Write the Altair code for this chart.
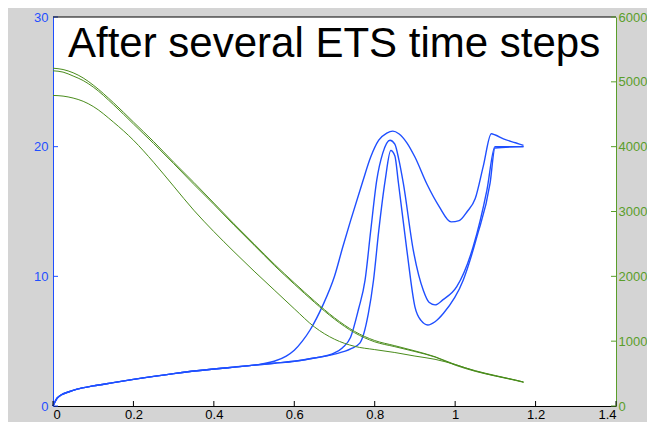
import altair as alt
import pandas as pd

BLUE = "#1f4fff"
GREEN = "#4a8c1c"
GREEN_AXIS = "#5a9e2a"
GREY = "#d4d4d4"
TITLE = "After several ETS time steps"

x_ticks = [0, 0.2, 0.4, 0.6, 0.8, 1.0, 1.2, 1.4]
left_ticks = [0, 10, 20, 30]
right_ticks = [0, 1000, 2000, 3000, 4000, 5000, 6000]

# Blue curves (left axis)
a_x = [0, 0.01, 0.02, 0.04, 0.06, 0.1, 0.15, 0.2, 0.3, 0.4, 0.45, 0.5, 0.52, 0.55, 0.58, 0.6,
       0.62, 0.64, 0.67, 0.7, 0.72, 0.74, 0.77, 0.79, 0.81, 0.83, 0.845, 0.86, 0.88, 0.9, 0.93,
       0.96, 0.99, 1.01, 1.03, 1.05, 1.07, 1.09, 1.1, 1.12, 1.15, 1.17]
a_v = [0, 0.6, 0.85, 1.1, 1.3, 1.55, 1.8, 2.05, 2.5, 2.85, 3.0, 3.15, 3.25, 3.45, 3.85, 4.3,
       5.0, 5.9, 7.7, 10.0, 12.2, 14.3, 17.3, 19.2, 20.5, 21.05, 21.2, 21.0, 20.3, 19.2, 17.1,
       15.4, 14.2, 14.3, 15.0, 16.0, 18.5, 21.0, 20.9, 20.6, 20.3, 20.1]

b_x = [0, 0.01, 0.02, 0.04, 0.06, 0.1, 0.15, 0.2, 0.3, 0.4, 0.45, 0.5, 0.55, 0.6, 0.65, 0.7,
       0.72, 0.74, 0.76, 0.776, 0.79, 0.805, 0.82, 0.838, 0.85, 0.86, 0.871, 0.896, 0.921, 0.935,
       0.95, 0.97, 1.004, 1.045, 1.079, 1.099, 1.17]
b_v = [0, 0.6, 0.85, 1.1, 1.3, 1.55, 1.8, 2.05, 2.5, 2.85, 3.0, 3.15, 3.3, 3.45, 3.7, 4.1,
       4.5, 5.3, 7.5, 9.7, 13.5, 17.4, 19.5, 20.5, 20.2, 19.0, 17.2, 12.0, 8.9, 8.0,
       7.8, 8.2, 9.2, 12.3, 16.65, 20.0, 20.0]

c_x = [0, 0.01, 0.02, 0.04, 0.06, 0.1, 0.15, 0.2, 0.3, 0.4, 0.45, 0.5, 0.55, 0.6, 0.65, 0.7,
       0.74, 0.763, 0.784, 0.797, 0.81, 0.826, 0.84, 0.85, 0.859, 0.88, 0.9, 0.915, 0.932, 0.95,
       0.971, 1.02, 1.054, 1.087, 1.099, 1.17]
c_v = [0, 0.6, 0.85, 1.1, 1.3, 1.55, 1.8, 2.05, 2.5, 2.85, 3.0, 3.15, 3.3, 3.45, 3.7, 4.0,
       4.4, 4.85, 7.1, 9.7, 13.5, 17.4, 19.7, 19.3, 17.2, 12.0, 7.65, 6.6, 6.25, 6.5,
       7.15, 9.7, 13.05, 17.2, 19.9, 20.0]

# Green curves (right axis)
g_x = [0, 0.025, 0.05, 0.075, 0.1, 0.15, 0.2, 0.25, 0.3, 0.35, 0.4, 0.45, 0.5, 0.55, 0.6, 0.65,
       0.7, 0.75, 0.8, 0.85, 0.9, 0.95, 1.0, 1.05, 1.1, 1.15, 1.17]
g1_v = [5210, 5190, 5140, 5060, 4950, 4680, 4380, 4080, 3760, 3450, 3130, 2810, 2500, 2190,
        1900, 1620, 1360, 1150, 1010, 930, 850, 760, 640, 545, 470, 400, 370]
g2_v = [5170, 5150, 5090, 5020, 4920, 4650, 4350, 4050, 3740, 3420, 3110, 2790, 2480, 2170,
        1880, 1600, 1340, 1130, 990, 915, 840, 755, 630, 535, 462, 395, 365]
g3_v = [4790, 4780, 4750, 4700, 4620, 4380, 4100, 3760, 3390, 3020, 2690, 2380, 2080, 1790,
        1500, 1220, 1030, 920, 870, 825, 770, 720, 640, 540, 465, 400, 370]

W, H = 563, 389

blue_df = pd.concat([
    pd.DataFrame({"x": a_x, "v": a_v, "s": "A"}),
    pd.DataFrame({"x": b_x, "v": b_v, "s": "B"}),
    pd.DataFrame({"x": c_x, "v": c_v, "s": "C"}),
])
green_df = pd.concat([
    pd.DataFrame({"x": g_x, "v": g1_v, "s": "G1"}),
    pd.DataFrame({"x": g_x, "v": g2_v, "s": "G2"}),
    pd.DataFrame({"x": g_x, "v": g3_v, "s": "G3"}),
])

xenc = alt.X("x:Q", title=None,
             scale=alt.Scale(domain=[0, 1.4], nice=False, zero=False),
             axis=alt.Axis(values=x_ticks, format=".1~f", tickSize=0, labelPadding=2,
                           domainColor="black", labelColor="black"))
yL = alt.Y("v:Q", title=None,
           scale=alt.Scale(domain=[0, 30], nice=False),
           axis=alt.Axis(orient="left", values=left_ticks, format="d", tickSize=0,
                         labelPadding=5, domainColor=BLUE, labelColor=BLUE))
yR = alt.Y("v:Q", title=None,
           scale=alt.Scale(domain=[0, 6000], nice=False),
           axis=alt.Axis(orient="right", values=right_ticks, format="d", tickSize=0,
                         labelPadding=2, domainColor=GREEN_AXIS, labelColor=GREEN_AXIS))

blue_lines = alt.Chart(blue_df).mark_line(
    color=BLUE, strokeWidth=1.4, interpolate="monotone").encode(x=xenc, y=yL, detail="s:N")
blue_ticks = alt.Chart(pd.DataFrame({"v": left_ticks})).mark_rule(color=BLUE).encode(
    y=yL, x=alt.value(0), x2=alt.value(5))
x_tick_marks = alt.Chart(pd.DataFrame({"x": x_ticks})).mark_rule(color="black").encode(
    x=xenc, y=alt.value(H - 5), y2=alt.value(H))
top_border = alt.Chart(pd.DataFrame({"a": [0]})).mark_rule(color="black").encode(
    x=alt.value(0), x2=alt.value(W), y=alt.value(0))
title_text = alt.Chart(pd.DataFrame({"t": [TITLE]})).mark_text(
    font="Liberation Sans", fontSize=42, align="left", baseline="alphabetic",
    color="black").encode(x=alt.value(15), y=alt.value(40), text="t:N")

green_lines = alt.Chart(green_df).mark_line(
    color=GREEN, strokeWidth=1, interpolate="monotone").encode(x=xenc, y=yR, detail="s:N")
green_ticks = alt.Chart(pd.DataFrame({"v": right_ticks})).mark_rule(color=GREEN_AXIS).encode(
    y=yR, x=alt.value(W - 5), x2=alt.value(W))

left = alt.layer(blue_lines, blue_ticks, x_tick_marks, top_border, title_text)
right = alt.layer(green_lines, green_ticks)

chart = alt.layer(left, right).resolve_scale(y="independent").properties(
    width=W, height=H,
    padding={"left": 45, "top": 9, "right": 31, "bottom": 16},
    autosize=alt.AutoSizeParams(type="none"),
    background=GREY,
).configure_view(fill="white", strokeWidth=0).configure_axis(
    labelFont="Liberation Sans", labelFontSize=13, grid=False, domainWidth=1, zindex=1
)

chart.save("out.html", embed_options={"renderer": "svg", "actions": False})
